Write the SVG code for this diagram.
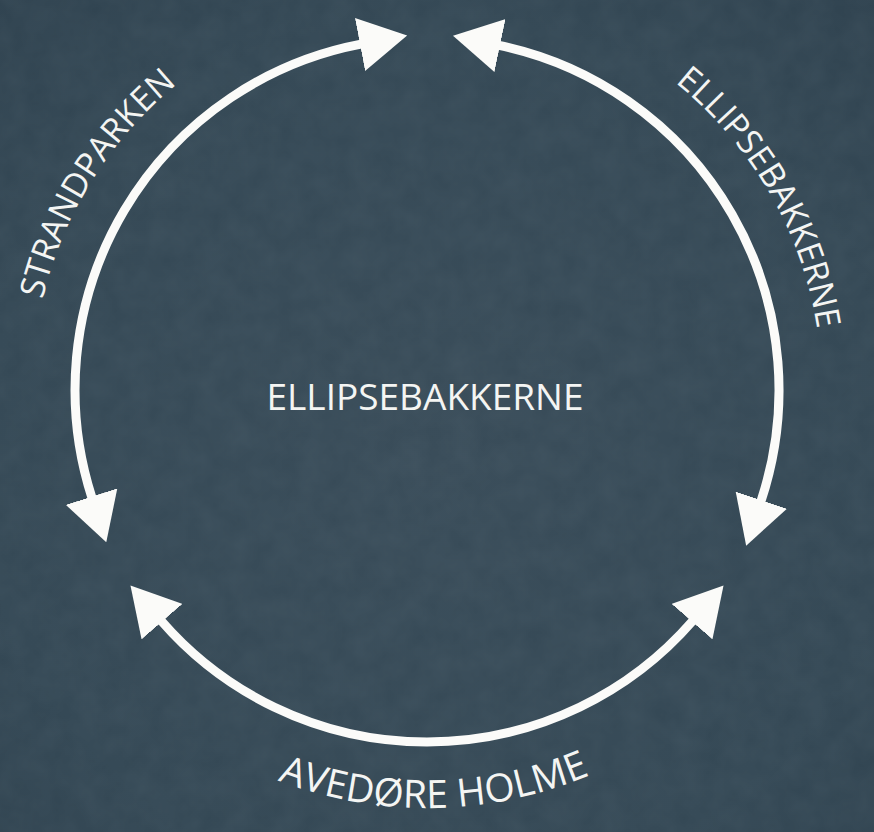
<svg xmlns="http://www.w3.org/2000/svg" width="874" height="832" viewBox="0 0 874 832">
  <defs>
    <radialGradient id="bg" cx="0.5" cy="0.55" r="0.75">
      <stop offset="0" stop-color="#384b58"/>
      <stop offset="0.7" stop-color="#334754"/>
      <stop offset="1" stop-color="#2e414e"/>
    </radialGradient>
    <filter id="grain" x="0" y="0" width="100%" height="100%">
      <feTurbulence type="fractalNoise" baseFrequency="0.04" numOctaves="3" seed="7" result="n"/>
      <feColorMatrix type="matrix" values="0 0 0 0 0.5  0 0 0 0 0.6  0 0 0 0 0.65  0 0 0 0.07 0"/>
    </filter>
    <marker id="head" viewBox="0 0 48 54" refX="1" refY="27" markerWidth="48" markerHeight="54" markerUnits="userSpaceOnUse" orient="auto-start-reverse">
      <path d="M0,0 L48,27 L0,54 Z" fill="#fbfbf9"/>
    </marker>
    <path id="tpLeft" d="M55.8,525.1 A395,395 0 0 1 385.7,-2.8"/>
    <path id="tpRight" d="M482.0,-1.2 A395,395 0 0 1 793.2,538.0"/>
    <path id="tpBottom" d="M102.2,653.1 A418,418 0 0 0 760.8,641.6"/>
  </defs>
  <style>
    .arc { fill: none; stroke: #fbfbf9; stroke-width: 9; }
    .lbl { font-family: "Open Sans", "Liberation Sans", sans-serif; fill: #f4f5f3; }
  </style>
  <rect width="874" height="832" fill="url(#bg)"/>
  <rect width="874" height="832" filter="url(#grain)"/>

  <g id="connectors">
    <path id="arc-strandparken" class="arc" d="M361.0,44.2 A352,352 0 0 0 91.9,497.6" marker-start="url(#head)" marker-end="url(#head)"/>
    <path id="arc-ellipsebakkerne" class="arc" d="M499.0,45.4 A352,352 0 0 1 761.0,501.1" marker-start="url(#head)" marker-end="url(#head)"/>
    <path id="arc-avedore" class="arc" d="M161.3,620.9 A352,352 0 0 0 692.7,620.9" marker-start="url(#head)" marker-end="url(#head)"/>
  </g>

  <g id="node-center">
    <text class="lbl" x="425" y="410" font-size="37" text-anchor="middle">ELLIPSEBAKKERNE</text>
  </g>
  <g id="label-strandparken">
    <text class="lbl" font-size="34"><textPath href="#tpLeft" startOffset="50%" text-anchor="middle">STRANDPARKEN</textPath></text>
  </g>
  <g id="label-ellipsebakkerne">
    <text class="lbl" font-size="34"><textPath href="#tpRight" startOffset="50%" text-anchor="middle">ELLIPSEBAKKERNE</textPath></text>
  </g>
  <g id="label-avedore">
    <text class="lbl" font-size="39"><textPath href="#tpBottom" startOffset="50%" text-anchor="middle">AVEDØRE HOLME</textPath></text>
  </g>
</svg>
